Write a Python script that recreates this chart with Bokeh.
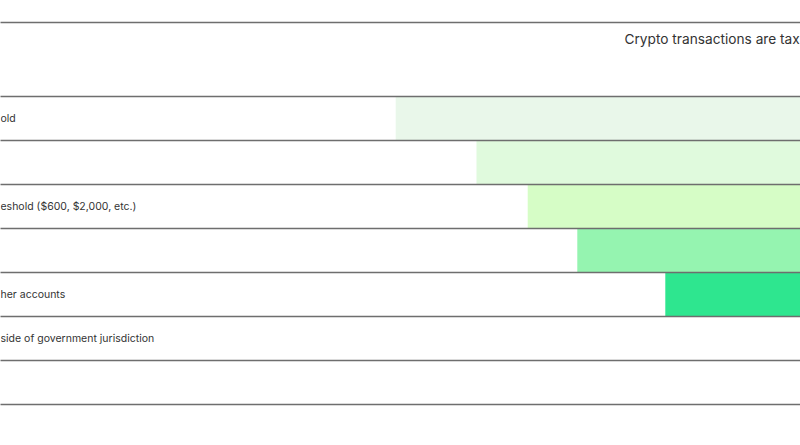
from bokeh.plotting import figure
from bokeh.models import Range1d, ColumnDataSource
from bokeh.core.properties import value
from bokeh.embed import file_html
from bokeh.resources import INLINE

# ---- data (visible crop of the chart) ----
header_text = "Crypto transactions are tax"
row_labels = ["old", "", "eshold ($600, $2,000, etc.)", "", "her accounts",
              "side of government jurisdiction", ""]
bar_rows = [0, 1, 2, 3, 4]
bar_start = [49.4, 59.5, 65.9, 72.1, 83.1]          # % of visible width
bar_colors = ["#e9f7ea", "#e0fadd", "#d6fdc6", "#95f4b0", "#2ee68f"]

# ---- layout ----
W, H = 800, 445
ROW_PX = 44.0
TOP_LINE_PX = 22.0
FIRST_ROW_PX = 96.0
HEADER_TEXT_PX = 38.0
y_top = -FIRST_ROW_PX / ROW_PX
y_bot = (H - FIRST_ROW_PX) / ROW_PX
header_line = (TOP_LINE_PX - FIRST_ROW_PX) / ROW_PX
header_y = (HEADER_TEXT_PX - FIRST_ROW_PX) / ROW_PX

p = figure(width=W, height=H, output_backend="svg", toolbar_location=None,
           x_range=Range1d(0, 100), y_range=Range1d(y_bot, y_top),
           min_border=0, min_border_left=0, min_border_right=0,
           min_border_top=0, min_border_bottom=0)
p.axis.visible = False
p.grid.visible = False
p.outline_line_color = None
p.background_fill_color = "white"
p.border_fill_color = "white"

bars = ColumnDataSource(dict(
    left=bar_start, right=[100.5] * len(bar_start),
    top=[r for r in bar_rows], bottom=[r + 1 for r in bar_rows],
    color=bar_colors))
p.quad(left="left", right="right", top="top", bottom="bottom",
       fill_color="color", line_color=None, source=bars)

n = len(row_labels)
line_ys = [header_line] + [float(i) for i in range(n + 1)]
p.segment(x0=[-1] * len(line_ys), x1=[101] * len(line_ys), y0=line_ys, y1=line_ys,
          line_color="#6e6e6e", line_width=1.3)

lab = ColumnDataSource(dict(x=[0.0] * n, y=[i + 0.5 for i in range(n)], text=row_labels))
p.text(x="x", y="y", text="text", source=lab, text_font=value("Inter"),
       text_font_size="10.5px", text_color="#333333", text_baseline="middle",
       text_align="left")

p.text(x=[78.0], y=[header_y], text=[header_text],
       text_font=value("Inter"), text_font_size="13.7px", text_color="#333333",
       text_baseline="middle", text_align="left")

open("out.html", "w").write(file_html(p, INLINE))
